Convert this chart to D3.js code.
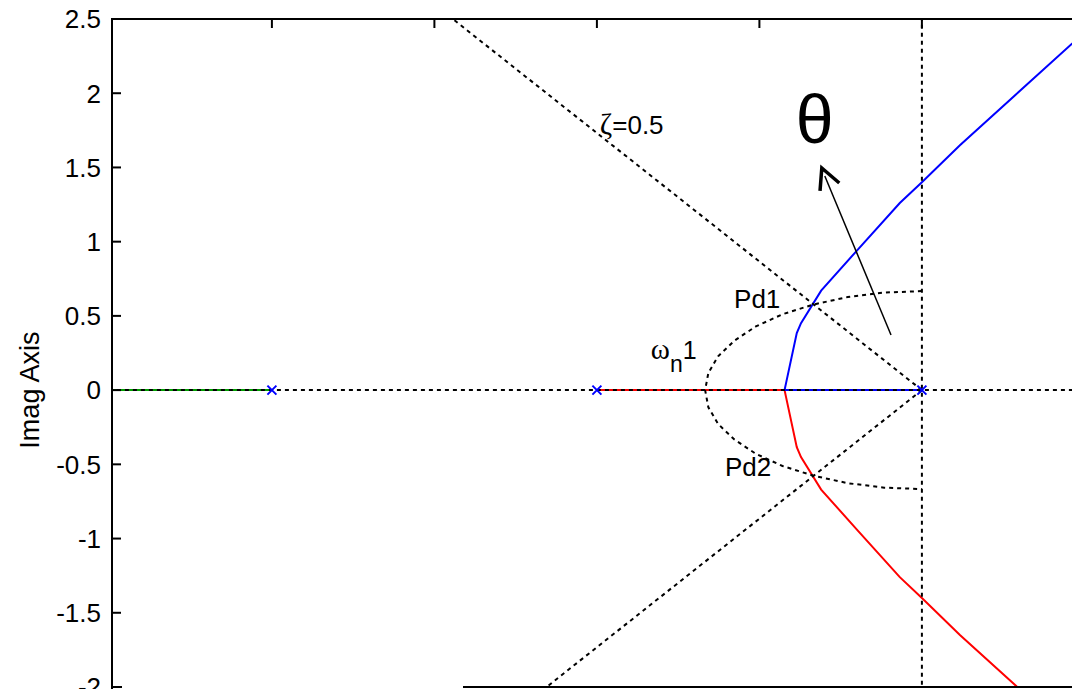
<!DOCTYPE html>
<html>
<head>
<meta charset="utf-8">
<script src="https://cdn.jsdelivr.net/npm/d3@7"></script>
<style>
body { margin: 0; background: #fff; }
text { font-family: "Liberation Sans", Arial, Helvetica, sans-serif; fill: #000; }
</style>
</head>
<body>
<svg></svg>
<script>
// tick values
var yTicks = [-2, -1.5, -1, -0.5, 0, 0.5, 1, 1.5, 2, 2.5]
var xTicks = [-2, -1.5, -1, -0.5, 0, 0.5]

// open loop poles (real, imag)
var poles = [[0, 0], [-1, 0], [-2, 0]]

var branchBlue = [[0, 0], [-0.4226, 0], [-0.418, 0.047], [-0.385, 0.384], [-0.372, 0.451],
	[-0.31, 0.67], [-0.2, 0.94], [-0.068, 1.26], [0, 1.40], [0.117, 1.65], [0.46, 2.33], [0.5, 2.40]]
var branchRed = [[-1, 0], [-0.4226, 0], [-0.418, -0.047], [-0.385, -0.384], [-0.372, -0.451],
	[-0.31, -0.67], [-0.2, -0.94], [-0.068, -1.26], [0, -1.40], [0.117, -1.65], [0.46, -2.33], [0.5, -2.40]]
var branchGreen = [[-2, 0], [-2.6, 0]]

// design lines: damping ratio 0.5 rays and natural frequency arc
var zetaUpper = [[0, 0], [-1.4434, 2.5]]
var zetaLower = [[0, 0], [-1.1547, -2]]
var wnArc = [[0, 0.667], [-0.116, 0.657], [-0.228, 0.627], [-0.333, 0.577], [-0.429, 0.511],
	[-0.511, 0.429], [-0.577, 0.333], [-0.627, 0.228], [-0.657, 0.116], [-0.667, 0],
	[-0.657, -0.116], [-0.627, -0.228], [-0.577, -0.333], [-0.511, -0.429], [-0.429, -0.511],
	[-0.333, -0.577], [-0.228, -0.627], [-0.116, -0.657], [0, -0.667]]
var realAxis = [[-2.6, 0], [0.6, 0]]
var imagAxis = [[0, -2.2], [0, 2.7]]

// annotations (real, imag of text start / baseline)
var labels = [
	{text: 'Pd1', x: -0.578, y: 0.553},
	{text: 'Pd2', x: -0.606, y: -0.58}
]
var zetaLabel = {x: -0.991, y: 1.725}
var wnLabel = {x: -0.834, y: 0.209}
var thetaLabel = {x: -0.388, y: 1.664}
var arrowTail = [-0.095, 0.371]
var arrowTip = [-0.308, 1.496]

var width = 1072, height = 689
var svg = d3.select('svg').attr('width', width).attr('height', height)

var x = d3.scaleLinear().domain([-2.492, 0.5]).range([112, 1084.4])
var y = d3.scaleLinear().domain([-2, 2.5]).range([687, 19])

svg.append('defs').append('clipPath').attr('id', 'plot')
	.append('rect').attr('x', x(-2.492)).attr('y', y(2.5))
	.attr('width', x(0.5) - x(-2.492)).attr('height', y(-2) - y(2.5))

var line = d3.line().x(function(d) {return x(d[0])}).y(function(d) {return y(d[1])})

var plot = svg.append('g').attr('clip-path', 'url(#plot)')

// locus branches
plot.append('path').datum(branchGreen).attr('d', line)
	.attr('fill', 'none').attr('stroke', '#00a000').attr('stroke-width', 2)
plot.append('path').datum(branchRed).attr('d', line)
	.attr('fill', 'none').attr('stroke', '#ff0000').attr('stroke-width', 2)
plot.append('path').datum(branchBlue).attr('d', line)
	.attr('fill', 'none').attr('stroke', '#0000ff').attr('stroke-width', 2)

// dotted grid / design lines
var dotted = [realAxis, imagAxis, zetaUpper, zetaLower, wnArc]
plot.selectAll('.dotted').data(dotted).enter().append('path')
	.attr('class', 'dotted')
	.attr('d', line)
	.attr('fill', 'none')
	.attr('stroke', '#000')
	.attr('stroke-width', 2)
	.attr('stroke-dasharray', '4,4')

// pole markers
var px = plot.selectAll('.pole').data(poles).enter().append('g')
	.attr('class', 'pole')
	.attr('transform', function(d) {return 'translate(' + x(d[0]) + ',' + y(d[1]) + ')'})
px.append('path').attr('d', 'M-4.5,-4.5L4.5,4.5M-4.5,4.5L4.5,-4.5')
	.attr('stroke', '#0000ff').attr('stroke-width', 2)

// arrow for theta
var tx = x(arrowTail[0]), ty = y(arrowTail[1])
var hx = x(arrowTip[0]), hy = y(arrowTip[1])
svg.append('line').attr('x1', tx).attr('y1', ty).attr('x2', hx + 3).attr('y2', hy + 8)
	.attr('stroke', '#000').attr('stroke-width', 1.5)
var ang = Math.atan2(ty - hy, tx - hx), len = 23, spread = 0.47
svg.append('path')
	.attr('d', 'M' + (hx + len * Math.cos(ang + spread)) + ',' + (hy + len * Math.sin(ang + spread)) +
		'L' + hx + ',' + hy +
		'L' + (hx + len * Math.cos(ang - spread)) + ',' + (hy + len * Math.sin(ang - spread)))
	.attr('fill', 'none').attr('stroke', '#000').attr('stroke-width', 3.5)

// text annotations
svg.selectAll('.lbl').data(labels).enter().append('text')
	.attr('class', 'lbl')
	.attr('x', function(d) {return x(d.x)})
	.attr('y', function(d) {return y(d.y)})
	.style('font-size', '26px')
	.text(function(d) {return d.text})

var zt = svg.append('text').attr('x', x(zetaLabel.x)).attr('y', y(zetaLabel.y)).style('font-size', '26px')
zt.append('tspan').style('font-family', '"Liberation Serif", "DejaVu Serif", serif').style('font-size', '30px').text('ζ')
zt.append('tspan').text('=0.5')

var wt = svg.append('text').attr('x', x(wnLabel.x)).attr('y', y(wnLabel.y)).style('font-size', '25px')
wt.append('tspan').style('font-family', '"Liberation Serif", "DejaVu Serif", serif').style('font-size', '29px').text('ω')
wt.append('tspan').attr('dy', 13).style('font-size', '23px').text('n')
wt.append('tspan').attr('dy', -13).text('1')

svg.append('text').attr('x', x(thetaLabel.x)).attr('y', y(thetaLabel.y))
	.style('font-size', '68px').text('θ')

// axes box
var axisStroke = 2
svg.append('line').attr('x1', x(-2.492)).attr('x2', width).attr('y1', y(2.5)).attr('y2', y(2.5))
	.attr('stroke', '#000').attr('stroke-width', axisStroke)
svg.append('line').attr('x1', x(-2.492)).attr('x2', x(-2.492)).attr('y1', y(2.5) - 1).attr('y2', height)
	.attr('stroke', '#000').attr('stroke-width', axisStroke)
svg.append('line').attr('x1', x(-2.492)).attr('x2', width).attr('y1', y(-2)).attr('y2', y(-2))
	.attr('stroke', '#000').attr('stroke-width', axisStroke)

// left ticks (inward) + labels
svg.selectAll('.ytick').data(yTicks).enter().append('line')
	.attr('class', 'ytick')
	.attr('x1', x(-2.492)).attr('x2', x(-2.492) + 9)
	.attr('y1', function(d) {return y(d)}).attr('y2', function(d) {return y(d)})
	.attr('stroke', '#000').attr('stroke-width', axisStroke)
svg.selectAll('.ylab').data(yTicks).enter().append('text')
	.attr('class', 'ylab')
	.attr('x', x(-2.492) - 11)
	.attr('y', function(d) {return y(d)})
	.attr('dy', '0.36em')
	.attr('text-anchor', 'end')
	.style('font-size', '26px')
	.text(function(d) {return d})

// top ticks (inward)
svg.selectAll('.xtick').data(xTicks).enter().append('line')
	.attr('class', 'xtick')
	.attr('x1', function(d) {return x(d)}).attr('x2', function(d) {return x(d)})
	.attr('y1', y(2.5)).attr('y2', y(2.5) + 9)
	.attr('stroke', '#000').attr('stroke-width', axisStroke)

// cropped strip at bottom left of the original figure
svg.append('rect').attr('x', x(-2.492) + 10).attr('y', y(-2) - 3)
	.attr('width', 463 - x(-2.492) - 10).attr('height', 6).attr('fill', '#fff')

svg.append('text')
	.attr('transform', 'translate(' + 39 + ',' + y(0) + ') rotate(-90)')
	.attr('text-anchor', 'middle')
	.style('font-size', '27px')
	.text('Imag Axis')
</script>
</body>
</html>
